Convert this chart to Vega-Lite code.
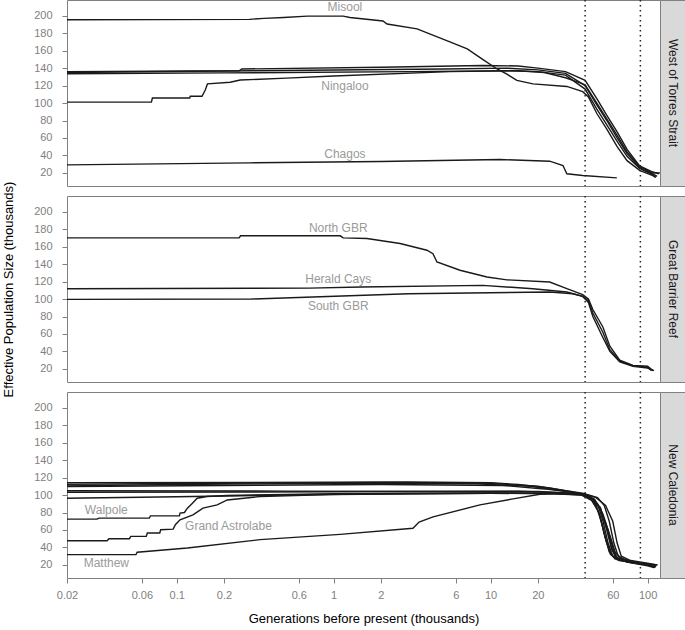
{
  "$schema": "https://vega.github.io/schema/vega-lite/v6.json",
  "padding": {"left": 2, "top": -2, "right": 0, "bottom": 0},
  "bounds": "flush",
  "config": {
    "font": "Liberation Sans",
    "view": {"stroke": "#808080", "strokeWidth": 1},
    "axis": {"grid": false, "domain": false, "tickColor": "#808080", "labelColor": "#808080", "labelFontSize": 11, "tickSize": 5, "labelOverlap": false, "labelFlush": false, "titleFontWeight": "normal", "titleFontSize": 13, "titleColor": "#000000"},
    "axisY": {"tickCount": 12}
  },
  "datasets": {
    "lines": [
      {"r":"W","s":"Misool","x":0.02,"y":195.4},{"r":"W","s":"Misool","x":0.29,"y":195.8},{"r":"W","s":"Misool","x":0.36,"y":197},{"r":"W","s":"Misool","x":0.48,"y":198},{"r":"W","s":"Misool","x":0.68,"y":199.5},{"r":"W","s":"Misool","x":1.15,"y":199.5},{"r":"W","s":"Misool","x":1.27,"y":198},{"r":"W","s":"Misool","x":2.06,"y":194},{"r":"W","s":"Misool","x":2.19,"y":190.5},{"r":"W","s":"Misool","x":3.4,"y":185},{"r":"W","s":"Misool","x":5.5,"y":170},{"r":"W","s":"Misool","x":7.1,"y":162},{"r":"W","s":"Misool","x":8.9,"y":150},{"r":"W","s":"Misool","x":11,"y":139},{"r":"W","s":"Misool","x":12.7,"y":133},{"r":"W","s":"Misool","x":14.7,"y":126},{"r":"W","s":"Misool","x":18.6,"y":122},{"r":"W","s":"Misool","x":30.6,"y":119},{"r":"W","s":"Misool","x":38.6,"y":113},{"r":"W","s":"Misool","x":42,"y":107},{"r":"W","s":"Misool","x":47.5,"y":88},{"r":"W","s":"Misool","x":55,"y":70},{"r":"W","s":"Misool","x":64,"y":50},{"r":"W","s":"Misool","x":74,"y":34},{"r":"W","s":"Misool","x":89,"y":23},{"r":"W","s":"Misool","x":108,"y":17},{"r":"W","s":"Misool","x":113,"y":15},
      {"r":"W","s":"A","x":0.02,"y":136},{"r":"W","s":"A","x":0.25,"y":137},{"r":"W","s":"A","x":0.26,"y":139},{"r":"W","s":"A","x":2,"y":141},{"r":"W","s":"A","x":8.9,"y":143},{"r":"W","s":"A","x":15,"y":142.5},{"r":"W","s":"A","x":20,"y":140},{"r":"W","s":"A","x":30,"y":136},{"r":"W","s":"A","x":40,"y":126},{"r":"W","s":"A","x":47.5,"y":105},{"r":"W","s":"A","x":55,"y":86},{"r":"W","s":"A","x":64,"y":67},{"r":"W","s":"A","x":74,"y":47},{"r":"W","s":"A","x":89,"y":28},{"r":"W","s":"A","x":108,"y":21},{"r":"W","s":"A","x":118,"y":19},
      {"r":"W","s":"B","x":0.02,"y":135},{"r":"W","s":"B","x":0.3,"y":137},{"r":"W","s":"B","x":5,"y":139},{"r":"W","s":"B","x":12.7,"y":140},{"r":"W","s":"B","x":20,"y":138},{"r":"W","s":"B","x":30,"y":134},{"r":"W","s":"B","x":40,"y":120},{"r":"W","s":"B","x":47.5,"y":98},{"r":"W","s":"B","x":55,"y":80},{"r":"W","s":"B","x":64,"y":60},{"r":"W","s":"B","x":74,"y":42},{"r":"W","s":"B","x":89,"y":26},{"r":"W","s":"B","x":108,"y":19},{"r":"W","s":"B","x":115,"y":16},
      {"r":"W","s":"C","x":0.02,"y":133.5},{"r":"W","s":"C","x":0.2,"y":134.5},{"r":"W","s":"C","x":3,"y":136},{"r":"W","s":"C","x":12.7,"y":137},{"r":"W","s":"C","x":20,"y":136},{"r":"W","s":"C","x":30,"y":132},{"r":"W","s":"C","x":40,"y":116},{"r":"W","s":"C","x":47.5,"y":93},{"r":"W","s":"C","x":55,"y":75},{"r":"W","s":"C","x":64,"y":56},{"r":"W","s":"C","x":74,"y":39},{"r":"W","s":"C","x":89,"y":25},{"r":"W","s":"C","x":108,"y":18},{"r":"W","s":"C","x":112,"y":15},
      {"r":"W","s":"Ningaloo","x":0.02,"y":101},{"r":"W","s":"Ningaloo","x":0.069,"y":101},{"r":"W","s":"Ningaloo","x":0.07,"y":105.8},{"r":"W","s":"Ningaloo","x":0.121,"y":105.8},{"r":"W","s":"Ningaloo","x":0.122,"y":107.8},{"r":"W","s":"Ningaloo","x":0.145,"y":107.8},{"r":"W","s":"Ningaloo","x":0.152,"y":115},{"r":"W","s":"Ningaloo","x":0.157,"y":121.9},{"r":"W","s":"Ningaloo","x":0.219,"y":123.8},{"r":"W","s":"Ningaloo","x":0.254,"y":126.4},{"r":"W","s":"Ningaloo","x":0.5,"y":128.5},{"r":"W","s":"Ningaloo","x":1,"y":131},{"r":"W","s":"Ningaloo","x":5.5,"y":136},{"r":"W","s":"Ningaloo","x":15,"y":137},{"r":"W","s":"Ningaloo","x":22,"y":135},{"r":"W","s":"Ningaloo","x":30,"y":129},{"r":"W","s":"Ningaloo","x":40,"y":121},{"r":"W","s":"Ningaloo","x":47.5,"y":100},{"r":"W","s":"Ningaloo","x":55,"y":82},{"r":"W","s":"Ningaloo","x":64,"y":63},{"r":"W","s":"Ningaloo","x":74,"y":44},{"r":"W","s":"Ningaloo","x":89,"y":27},{"r":"W","s":"Ningaloo","x":108,"y":20},{"r":"W","s":"Ningaloo","x":120,"y":20},
      {"r":"W","s":"Chagos","x":0.02,"y":29.2},{"r":"W","s":"Chagos","x":0.29,"y":31.5},{"r":"W","s":"Chagos","x":2,"y":33},{"r":"W","s":"Chagos","x":11.5,"y":35.3},{"r":"W","s":"Chagos","x":23.8,"y":33.4},{"r":"W","s":"Chagos","x":28.9,"y":28.4},{"r":"W","s":"Chagos","x":30.6,"y":19},{"r":"W","s":"Chagos","x":38.6,"y":17},{"r":"W","s":"Chagos","x":63.7,"y":14.3},
      {"r":"G","s":"North GBR","x":0.02,"y":170.1},{"r":"G","s":"North GBR","x":0.25,"y":170.1},{"r":"G","s":"North GBR","x":0.255,"y":172.4},{"r":"G","s":"North GBR","x":1.1,"y":172.4},{"r":"G","s":"North GBR","x":1.15,"y":170},{"r":"G","s":"North GBR","x":1.63,"y":169.3},{"r":"G","s":"North GBR","x":2.65,"y":163.6},{"r":"G","s":"North GBR","x":3.93,"y":155.9},{"r":"G","s":"North GBR","x":4.29,"y":152},{"r":"G","s":"North GBR","x":4.55,"y":142.5},{"r":"G","s":"North GBR","x":6.38,"y":133},{"r":"G","s":"North GBR","x":9.48,"y":125.3},{"r":"G","s":"North GBR","x":12.7,"y":122},{"r":"G","s":"North GBR","x":23.8,"y":119.5},{"r":"G","s":"North GBR","x":30.6,"y":112},{"r":"G","s":"North GBR","x":38.6,"y":105},{"r":"G","s":"North GBR","x":42,"y":100},{"r":"G","s":"North GBR","x":44.8,"y":88},{"r":"G","s":"North GBR","x":51.9,"y":68},{"r":"G","s":"North GBR","x":57.5,"y":46},{"r":"G","s":"North GBR","x":66.5,"y":30},{"r":"G","s":"North GBR","x":80.6,"y":24},{"r":"G","s":"North GBR","x":100,"y":23},{"r":"G","s":"North GBR","x":108,"y":18},
      {"r":"G","s":"Herald Cays","x":0.02,"y":111.8},{"r":"G","s":"Herald Cays","x":0.7,"y":112.5},{"r":"G","s":"Herald Cays","x":1.5,"y":113.8},{"r":"G","s":"Herald Cays","x":8.9,"y":115.7},{"r":"G","s":"Herald Cays","x":18.6,"y":111.8},{"r":"G","s":"Herald Cays","x":30.6,"y":108},{"r":"G","s":"Herald Cays","x":38.6,"y":103},{"r":"G","s":"Herald Cays","x":42,"y":98},{"r":"G","s":"Herald Cays","x":44.8,"y":84},{"r":"G","s":"Herald Cays","x":51.9,"y":62},{"r":"G","s":"Herald Cays","x":57.5,"y":42},{"r":"G","s":"Herald Cays","x":66.5,"y":29},{"r":"G","s":"Herald Cays","x":80.6,"y":24},{"r":"G","s":"Herald Cays","x":100,"y":22},{"r":"G","s":"Herald Cays","x":106,"y":18},
      {"r":"G","s":"South GBR","x":0.02,"y":99.6},{"r":"G","s":"South GBR","x":0.3,"y":100},{"r":"G","s":"South GBR","x":3,"y":106},{"r":"G","s":"South GBR","x":23.8,"y":108},{"r":"G","s":"South GBR","x":33.4,"y":106},{"r":"G","s":"South GBR","x":38.6,"y":103},{"r":"G","s":"South GBR","x":42,"y":96},{"r":"G","s":"South GBR","x":44.8,"y":80},{"r":"G","s":"South GBR","x":51.9,"y":56},{"r":"G","s":"South GBR","x":57.5,"y":40},{"r":"G","s":"South GBR","x":66.5,"y":28},{"r":"G","s":"South GBR","x":80.6,"y":23},{"r":"G","s":"South GBR","x":100,"y":21},{"r":"G","s":"South GBR","x":110,"y":18},
      {"r":"N","s":"U1","x":0.02,"y":114.2},{"r":"N","s":"U1","x":0.3,"y":114.5},{"r":"N","s":"U1","x":3,"y":115},{"r":"N","s":"U1","x":10,"y":114},{"r":"N","s":"U1","x":15,"y":112},{"r":"N","s":"U1","x":23.8,"y":108},{"r":"N","s":"U1","x":33.4,"y":103.5},{"r":"N","s":"U1","x":38.6,"y":101},{"r":"N","s":"U1","x":41,"y":99},{"r":"N","s":"U1","x":46,"y":92},{"r":"N","s":"U1","x":50,"y":75},{"r":"N","s":"U1","x":54,"y":50},{"r":"N","s":"U1","x":58,"y":32},{"r":"N","s":"U1","x":64,"y":26},{"r":"N","s":"U1","x":80,"y":23},{"r":"N","s":"U1","x":100,"y":21},{"r":"N","s":"U1","x":114,"y":19},
      {"r":"N","s":"U2","x":0.02,"y":112.3},{"r":"N","s":"U2","x":0.2,"y":113.5},{"r":"N","s":"U2","x":2,"y":114.5},{"r":"N","s":"U2","x":10,"y":113.5},{"r":"N","s":"U2","x":20,"y":110},{"r":"N","s":"U2","x":30,"y":105},{"r":"N","s":"U2","x":38.6,"y":102},{"r":"N","s":"U2","x":42,"y":100},{"r":"N","s":"U2","x":48,"y":97},{"r":"N","s":"U2","x":53,"y":88},{"r":"N","s":"U2","x":57,"y":70},{"r":"N","s":"U2","x":61,"y":45},{"r":"N","s":"U2","x":65,"y":30},{"r":"N","s":"U2","x":75,"y":24},{"r":"N","s":"U2","x":100,"y":21},{"r":"N","s":"U2","x":116,"y":20},
      {"r":"N","s":"U3","x":0.02,"y":110.5},{"r":"N","s":"U3","x":0.1,"y":112},{"r":"N","s":"U3","x":1,"y":113.5},{"r":"N","s":"U3","x":8,"y":113},{"r":"N","s":"U3","x":18,"y":110},{"r":"N","s":"U3","x":28,"y":105},{"r":"N","s":"U3","x":38.6,"y":101},{"r":"N","s":"U3","x":43,"y":98},{"r":"N","s":"U3","x":47,"y":88},{"r":"N","s":"U3","x":51,"y":68},{"r":"N","s":"U3","x":55,"y":45},{"r":"N","s":"U3","x":60,"y":30},{"r":"N","s":"U3","x":70,"y":25},{"r":"N","s":"U3","x":100,"y":20},{"r":"N","s":"U3","x":110,"y":18},
      {"r":"N","s":"U4","x":0.02,"y":109.7},{"r":"N","s":"U4","x":0.2,"y":111},{"r":"N","s":"U4","x":2,"y":112},{"r":"N","s":"U4","x":12,"y":111},{"r":"N","s":"U4","x":22,"y":107},{"r":"N","s":"U4","x":33,"y":103},{"r":"N","s":"U4","x":40,"y":100},{"r":"N","s":"U4","x":45,"y":96},{"r":"N","s":"U4","x":50,"y":85},{"r":"N","s":"U4","x":56,"y":60},{"r":"N","s":"U4","x":60,"y":40},{"r":"N","s":"U4","x":64,"y":28},{"r":"N","s":"U4","x":80,"y":23},{"r":"N","s":"U4","x":100,"y":20},{"r":"N","s":"U4","x":112,"y":17},
      {"r":"N","s":"L1","x":0.02,"y":105},{"r":"N","s":"L1","x":0.5,"y":104.5},{"r":"N","s":"L1","x":5,"y":104},{"r":"N","s":"L1","x":20,"y":104},{"r":"N","s":"L1","x":33,"y":102},{"r":"N","s":"L1","x":40,"y":100},{"r":"N","s":"L1","x":46,"y":95},{"r":"N","s":"L1","x":52,"y":78},{"r":"N","s":"L1","x":58,"y":52},{"r":"N","s":"L1","x":62,"y":35},{"r":"N","s":"L1","x":68,"y":27},{"r":"N","s":"L1","x":85,"y":23},{"r":"N","s":"L1","x":100,"y":20},{"r":"N","s":"L1","x":108,"y":18},
      {"r":"N","s":"L2","x":0.02,"y":103.2},{"r":"N","s":"L2","x":0.3,"y":103.5},{"r":"N","s":"L2","x":3,"y":104},{"r":"N","s":"L2","x":15,"y":104.5},{"r":"N","s":"L2","x":30,"y":102.5},{"r":"N","s":"L2","x":40,"y":101},{"r":"N","s":"L2","x":47,"y":97},{"r":"N","s":"L2","x":54,"y":88},{"r":"N","s":"L2","x":60,"y":70},{"r":"N","s":"L2","x":64,"y":45},{"r":"N","s":"L2","x":68,"y":30},{"r":"N","s":"L2","x":78,"y":25},{"r":"N","s":"L2","x":100,"y":22},{"r":"N","s":"L2","x":115,"y":20},
      {"r":"N","s":"L3","x":0.02,"y":96.4},{"r":"N","s":"L3","x":0.1,"y":98},{"r":"N","s":"L3","x":0.5,"y":100},{"r":"N","s":"L3","x":2,"y":101.5},{"r":"N","s":"L3","x":10,"y":102},{"r":"N","s":"L3","x":25,"y":102},{"r":"N","s":"L3","x":38,"y":100},{"r":"N","s":"L3","x":44,"y":94},{"r":"N","s":"L3","x":49,"y":80},{"r":"N","s":"L3","x":53,"y":55},{"r":"N","s":"L3","x":57,"y":35},{"r":"N","s":"L3","x":62,"y":27},{"r":"N","s":"L3","x":80,"y":22},{"r":"N","s":"L3","x":100,"y":19},{"r":"N","s":"L3","x":110,"y":17},
      {"r":"N","s":"Walpole","x":0.02,"y":72.4},{"r":"N","s":"Walpole","x":0.031,"y":72.4},{"r":"N","s":"Walpole","x":0.032,"y":73.6},{"r":"N","s":"Walpole","x":0.067,"y":73.6},{"r":"N","s":"Walpole","x":0.068,"y":76.2},{"r":"N","s":"Walpole","x":0.104,"y":76.2},{"r":"N","s":"Walpole","x":0.105,"y":79.3},{"r":"N","s":"Walpole","x":0.112,"y":80},{"r":"N","s":"Walpole","x":0.117,"y":85},{"r":"N","s":"Walpole","x":0.126,"y":90.7},{"r":"N","s":"Walpole","x":0.135,"y":96.4},{"r":"N","s":"Walpole","x":0.156,"y":98.3},{"r":"N","s":"Walpole","x":0.21,"y":99.5},{"r":"N","s":"Walpole","x":1,"y":101.5},{"r":"N","s":"Walpole","x":10,"y":102.5},{"r":"N","s":"Walpole","x":25,"y":102},{"r":"N","s":"Walpole","x":38,"y":100.5},{"r":"N","s":"Walpole","x":43,"y":97},{"r":"N","s":"Walpole","x":48,"y":90},{"r":"N","s":"Walpole","x":52,"y":70},{"r":"N","s":"Walpole","x":56,"y":45},{"r":"N","s":"Walpole","x":60,"y":30},{"r":"N","s":"Walpole","x":66,"y":25},{"r":"N","s":"Walpole","x":85,"y":22},{"r":"N","s":"Walpole","x":100,"y":20},{"r":"N","s":"Walpole","x":112,"y":18},
      {"r":"N","s":"Grand Astrolabe","x":0.02,"y":47.7},{"r":"N","s":"Grand Astrolabe","x":0.036,"y":47.7},{"r":"N","s":"Grand Astrolabe","x":0.037,"y":50},{"r":"N","s":"Grand Astrolabe","x":0.05,"y":50},{"r":"N","s":"Grand Astrolabe","x":0.051,"y":52.7},{"r":"N","s":"Grand Astrolabe","x":0.064,"y":52.7},{"r":"N","s":"Grand Astrolabe","x":0.065,"y":56.5},{"r":"N","s":"Grand Astrolabe","x":0.078,"y":56.5},{"r":"N","s":"Grand Astrolabe","x":0.079,"y":60.3},{"r":"N","s":"Grand Astrolabe","x":0.095,"y":61},{"r":"N","s":"Grand Astrolabe","x":0.098,"y":66},{"r":"N","s":"Grand Astrolabe","x":0.105,"y":71.7},{"r":"N","s":"Grand Astrolabe","x":0.127,"y":77.3},{"r":"N","s":"Grand Astrolabe","x":0.147,"y":85},{"r":"N","s":"Grand Astrolabe","x":0.181,"y":88.7},{"r":"N","s":"Grand Astrolabe","x":0.21,"y":94.4},{"r":"N","s":"Grand Astrolabe","x":0.34,"y":98.3},{"r":"N","s":"Grand Astrolabe","x":0.95,"y":100.5},{"r":"N","s":"Grand Astrolabe","x":10,"y":102},{"r":"N","s":"Grand Astrolabe","x":25,"y":101.5},{"r":"N","s":"Grand Astrolabe","x":38,"y":100},{"r":"N","s":"Grand Astrolabe","x":44,"y":96},{"r":"N","s":"Grand Astrolabe","x":50,"y":86},{"r":"N","s":"Grand Astrolabe","x":55,"y":60},{"r":"N","s":"Grand Astrolabe","x":59,"y":38},{"r":"N","s":"Grand Astrolabe","x":63,"y":28},{"r":"N","s":"Grand Astrolabe","x":75,"y":23},{"r":"N","s":"Grand Astrolabe","x":100,"y":20},{"r":"N","s":"Grand Astrolabe","x":113,"y":18},
      {"r":"N","s":"Matthew","x":0.02,"y":31.8},{"r":"N","s":"Matthew","x":0.055,"y":31.8},{"r":"N","s":"Matthew","x":0.056,"y":34.5},{"r":"N","s":"Matthew","x":0.117,"y":39.4},{"r":"N","s":"Matthew","x":0.34,"y":48.9},{"r":"N","s":"Matthew","x":1.1,"y":55},{"r":"N","s":"Matthew","x":3.2,"y":62},{"r":"N","s":"Matthew","x":3.5,"y":69},{"r":"N","s":"Matthew","x":4.3,"y":75},{"r":"N","s":"Matthew","x":8.55,"y":88.7},{"r":"N","s":"Matthew","x":13.9,"y":95.6},{"r":"N","s":"Matthew","x":20.6,"y":100.9},{"r":"N","s":"Matthew","x":33.4,"y":102},{"r":"N","s":"Matthew","x":40,"y":100},{"r":"N","s":"Matthew","x":45,"y":95},{"r":"N","s":"Matthew","x":50,"y":84},{"r":"N","s":"Matthew","x":55,"y":62},{"r":"N","s":"Matthew","x":59,"y":40},{"r":"N","s":"Matthew","x":63,"y":29},{"r":"N","s":"Matthew","x":72,"y":24},{"r":"N","s":"Matthew","x":100,"y":20},{"r":"N","s":"Matthew","x":112,"y":18}
    ],
    "labs": [
      {"r":"W","t":"Misool","x":1.18,"y":210},
      {"r":"W","t":"Ningaloo","x":1.18,"y":119},
      {"r":"W","t":"Chagos","x":1.18,"y":42},
      {"r":"G","t":"North GBR","x":1.07,"y":181.6},
      {"r":"G","t":"Herald Cays","x":1.07,"y":122.5},
      {"r":"G","t":"South GBR","x":1.07,"y":92.6},
      {"r":"N","t":"Walpole","x":0.0356,"y":83},
      {"r":"N","t":"Grand Astrolabe","x":0.2136,"y":64.8},
      {"r":"N","t":"Matthew","x":0.0356,"y":22.3}
    ]
  },
  "columns": 2,
  "spacing": {"row": 10, "column": 0},
  "concat": [
    {
      "width": 593, "height": 186,
      "layer": [
        {"data": {"name": "lines"}, "transform": [{"filter": "datum.r == 'W'"}],
         "mark": {"type": "line", "color": "#1a1a1a", "strokeWidth": 1.4},
         "encoding": {
           "x": {"field": "x", "type": "quantitative", "scale": {"type": "log", "domain": [0.02, 120], "nice": false}, "axis": null},
           "y": {"field": "y", "type": "quantitative", "scale": {"domain": [5, 218], "nice": false, "zero": false}, "axis": {"values": [20,40,60,80,100,120,140,160,180,200], "tickCount": 12, "title": null, "labelPadding": 10}},
           "detail": {"field": "s"}}},
        {"data": {"values": [{"v": 40}, {"v": 90}]},
         "mark": {"type": "rule", "strokeDash": [1.5, 3.5], "strokeWidth": 1.5, "color": "#222222"},
         "encoding": {"x": {"field": "v", "type": "quantitative"}}},
        {"data": {"name": "labs"}, "transform": [{"filter": "datum.r == 'W'"}],
         "mark": {"type": "text", "color": "#9a9a9a", "fontSize": 12},
         "encoding": {"x": {"field": "x", "type": "quantitative"}, "y": {"field": "y", "type": "quantitative"}, "text": {"field": "t"}}}
      ]
    },
    {
      "width": 25, "height": 186,
      "view": {"fill": "#d9d9d9", "stroke": "#808080"},
      "data": {"values": [{"t": "West of Torres Strait"}]},
      "mark": {"type": "text", "angle": 90, "fontSize": 12, "color": "#1a1a1a"},
      "encoding": {"text": {"field": "t"}}
    },
    {
      "width": 593, "height": 186,
      "layer": [
        {"data": {"name": "lines"}, "transform": [{"filter": "datum.r == 'G'"}],
         "mark": {"type": "line", "color": "#1a1a1a", "strokeWidth": 1.4},
         "encoding": {
           "x": {"field": "x", "type": "quantitative", "scale": {"type": "log", "domain": [0.02, 120], "nice": false}, "axis": null},
           "y": {"field": "y", "type": "quantitative", "scale": {"domain": [5, 218], "nice": false, "zero": false}, "axis": {"values": [20,40,60,80,100,120,140,160,180,200], "tickCount": 12, "title": "Effective Population Size (thousands)", "labelPadding": 10, "titlePadding": 18}},
           "detail": {"field": "s"}}},
        {"data": {"values": [{"v": 40}, {"v": 90}]},
         "mark": {"type": "rule", "strokeDash": [1.5, 3.5], "strokeWidth": 1.5, "color": "#222222"},
         "encoding": {"x": {"field": "v", "type": "quantitative"}}},
        {"data": {"name": "labs"}, "transform": [{"filter": "datum.r == 'G'"}],
         "mark": {"type": "text", "color": "#9a9a9a", "fontSize": 12},
         "encoding": {"x": {"field": "x", "type": "quantitative"}, "y": {"field": "y", "type": "quantitative"}, "text": {"field": "t"}}}
      ]
    },
    {
      "width": 25, "height": 186,
      "view": {"fill": "#d9d9d9", "stroke": "#808080"},
      "data": {"values": [{"t": "Great Barrier Reef"}]},
      "mark": {"type": "text", "angle": 90, "fontSize": 12, "color": "#1a1a1a"},
      "encoding": {"text": {"field": "t"}}
    },
    {
      "width": 593, "height": 186,
      "layer": [
        {"data": {"name": "lines"}, "transform": [{"filter": "datum.r == 'N'"}],
         "mark": {"type": "line", "color": "#1a1a1a", "strokeWidth": 1.4},
         "encoding": {
           "x": {"field": "x", "type": "quantitative", "scale": {"type": "log", "domain": [0.02, 120], "nice": false}, "axis": {"values": [0.02,0.06,0.1,0.2,0.6,1,2,6,10,20,60,100], "format": "~g", "title": "Generations before present (thousands)", "labelPadding": 6, "titlePadding": 12}},
           "y": {"field": "y", "type": "quantitative", "scale": {"domain": [5, 218], "nice": false, "zero": false}, "axis": {"values": [20,40,60,80,100,120,140,160,180,200], "tickCount": 12, "title": null, "labelPadding": 10}},
           "detail": {"field": "s"}}},
        {"data": {"values": [{"v": 40}, {"v": 90}]},
         "mark": {"type": "rule", "strokeDash": [1.5, 3.5], "strokeWidth": 1.5, "color": "#222222"},
         "encoding": {"x": {"field": "v", "type": "quantitative"}}},
        {"data": {"name": "labs"}, "transform": [{"filter": "datum.r == 'N'"}],
         "mark": {"type": "text", "color": "#9a9a9a", "fontSize": 12},
         "encoding": {"x": {"field": "x", "type": "quantitative"}, "y": {"field": "y", "type": "quantitative"}, "text": {"field": "t"}}}
      ]
    },
    {
      "width": 25, "height": 186,
      "view": {"fill": "#d9d9d9", "stroke": "#808080"},
      "data": {"values": [{"t": "New Caledonia"}]},
      "mark": {"type": "text", "angle": 90, "fontSize": 12, "color": "#1a1a1a"},
      "encoding": {"text": {"field": "t"}}
    }
  ]
}
